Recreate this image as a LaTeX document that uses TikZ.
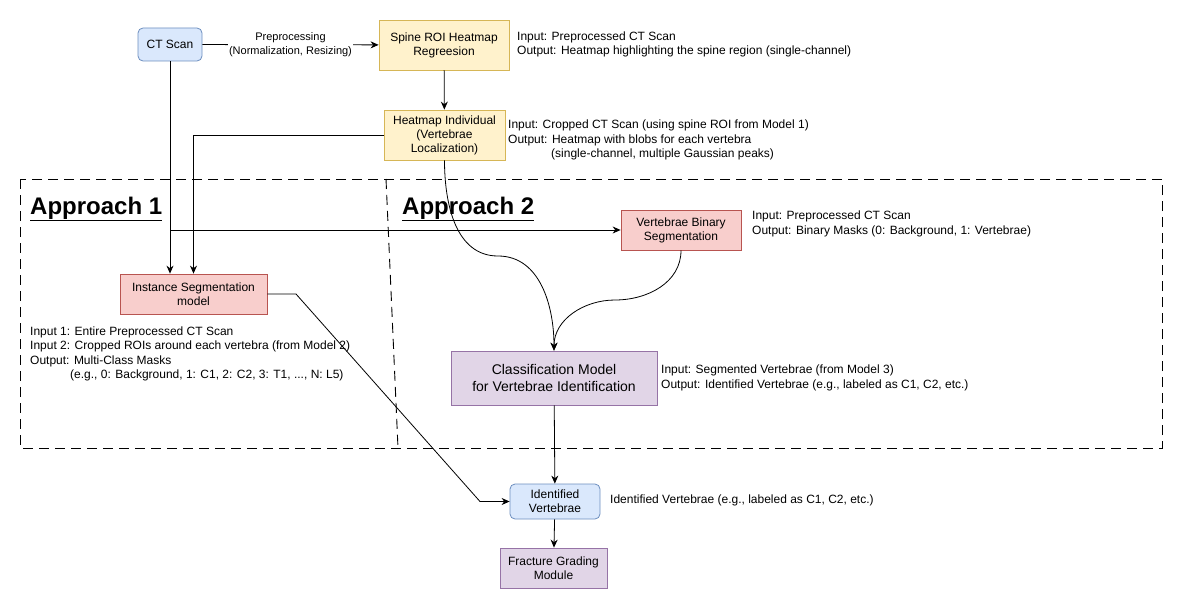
\documentclass[tikz,border=0pt]{standalone}
\usepackage{fontspec}
\setmainfont{Liberation Sans}
\usetikzlibrary{arrows.meta}

\definecolor{bleufond}{HTML}{DAE8FC}
\definecolor{bleubord}{HTML}{6C8EBF}
\definecolor{jaunefond}{HTML}{FFF2CC}
\definecolor{jaunebord}{HTML}{D6B656}
\definecolor{rougefond}{HTML}{F8CECC}
\definecolor{rougebord}{HTML}{B85450}
\definecolor{violetfond}{HTML}{E1D5E7}
\definecolor{violetbord}{HTML}{9673A6}

\tikzset{boite/.style = {draw, align=center, inner sep=0pt, line width=0.8pt,
                         font=\fontsize{12}{14}\selectfont},
         bleue/.style   = {boite, draw=bleubord, fill=bleufond, rounded corners=5pt},
         jaune/.style   = {boite, draw=jaunebord, fill=jaunefond},
         rouge/.style   = {boite, draw=rougebord, fill=rougefond},
         violette/.style= {boite, draw=violetbord, fill=violetfond},
         note/.style    = {anchor=west, align=left, inner sep=0pt,
                           font=\fontsize{12}{14.5}\selectfont},
         titre/.style   = {anchor=west, inner sep=0pt,
                           font=\fontsize{24}{28}\selectfont\bfseries},
         fleche/.style  = {draw, line width=0.8pt, -{Stealth[length=8pt,width=7pt]}},
         pointille/.style = {draw, line width=0.9pt, dash pattern=on 10pt off 6pt}
        }

\begin{document}
\begin{tikzpicture}[x=1pt, y=-1pt]
  \useasboundingbox (0,0) rectangle (1182,610);

  % zones
  \draw[pointille] (20,179) rectangle (1162,448);
  \draw[pointille] (386,179) -- (398,448);
  \node[titre] (appr1) at (30,209) {\underline{Approach 1}};
  \node[titre] (appr2) at (402,209) {\underline{Approach 2}};

  % boites
  \node[bleue, minimum width=64pt, minimum height=33pt] (ct) at (170,44.5) {CT Scan};
  \node[jaune, minimum width=130pt, minimum height=50pt] (spine) at (444,45)
       {Spine ROI Heatmap\\Regreesion};
  \node[jaune, minimum width=121pt, minimum height=50pt] (heatind) at (444.5,135)
       {Heatmap Individual\\(Vertebrae\\Localization)};
  \node[rouge, minimum width=120pt, minimum height=40pt] (binseg) at (681,230)
       {Vertebrae Binary\\Segmentation};
  \node[rouge, minimum width=147pt, minimum height=40pt] (instseg) at (193.5,294)
       {Instance Segmentation\\model};
  \node[violette, minimum width=206pt, minimum height=54pt,
        font=\fontsize{14}{17}\selectfont] (classif) at (554,378)
       {Classification Model\\for Vertebrae Identification};
  \node[bleue, minimum width=90pt, minimum height=35pt] (ident) at (555,501.5)
       {Identified\\Vertebrae};
  \node[violette, minimum width=107pt, minimum height=40pt] (fracture) at (553.5,568)
       {Fracture Grading\\Module};

  % notes
  \node[note] (spineinfo) at (517,44.5)
       {Input: Preprocessed CT Scan\\Output: Heatmap highlighting the spine region (single-channel)};
  \node[note] (heatinfo) at (508,140)
       {Input: Cropped CT Scan (using spine ROI from Model 1)\\
        Output: Heatmap with blobs for each vertebra\\
        \hspace*{43pt}(single-channel, multiple Gaussian peaks)};
  \node[note] (bininfo) at (752,224)
       {Input: Preprocessed CT Scan\\Output: Binary Masks (0: Background, 1: Vertebrae)};
  \node[note] (instinfo) at (30,354)
       {Input 1: Entire Preprocessed CT Scan\\
        Input 2: Cropped ROIs around each vertebra (from Model 2)\\
        Output: Multi-Class Masks\\
        \hspace*{40pt}(e.g., 0: Background, 1: C1, 2: C2, 3: T1, ..., N: L5)};
  \node[note] (classinfo) at (661,378)
       {Input: Segmented Vertebrae (from Model 3)\\
        Output: Identified Vertebrae (e.g., labeled as C1, C2, etc.)};
  \node[note] (identinfo) at (610,500)
       {Identified Vertebrae (e.g., labeled as C1, C2, etc.)};

  % liaisons
  \draw[fleche] (ct) -- node[fill=white, inner sep=1pt, align=center,
                             font=\fontsize{11}{14}\selectfont]
                        {Preprocessing\\(Normalization, Resizing)} (spine);
  \draw[fleche] (spine) -- (heatind);
  \draw[fleche] (ct.south) -- (ct.south |- instseg.north);
  \draw[fleche] (heatind.west) -| (instseg.north);
  \coordinate (embr) at (ct.south |- binseg.west);
  \draw[fleche] (embr) -- (binseg.west);
  \draw[fleche] (heatind.south) to[out=-90, in=180] (498,256)
                                to[out=0, in=90] (classif.north);
  \draw[fleche] (binseg.south) to[out=-90, in=0] (615,300)
                               to[out=180, in=90] (classif.north);
  \coordinate (coude1) at (296,294);
  \coordinate (coude2) at (480,501.5);
  \draw[fleche] (instseg.east) -- (coude1) -- (coude2) -- (ident.west);
  \draw[fleche] (classif) -- (ident);
  \draw[fleche] (ident) -- (fracture);
\end{tikzpicture}
\end{document}
